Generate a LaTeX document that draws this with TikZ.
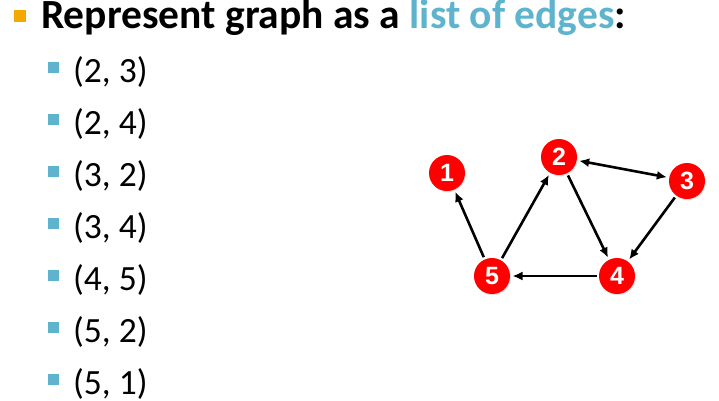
\documentclass[tikz,border=0pt]{standalone}
\usepackage{fontspec}
\setmainfont{Carlito}
\newfontfamily\numfont{Liberation Sans}
\usetikzlibrary{arrows.meta,shadows}
\definecolor{bulorange}{HTML}{F2A900}
\definecolor{bulteal}{HTML}{5FB4CD}
\definecolor{vred}{HTML}{FF0000}
\tikzset{
  vtx/.style={circle,fill=vred,minimum size=36pt,inner sep=0pt,outer sep=2.5pt,
    text=white,font=\numfont\bfseries\fontsize{25}{25}\selectfont,
    drop shadow={opacity=0.25,shadow xshift=0.8pt,shadow yshift=-1.2pt}},
  edge/.style={line width=2.6pt,-{Latex[length=10pt,width=9pt]}},
  dedge/.style={line width=2.6pt,{Latex[length=10pt,width=9pt]}-{Latex[length=10pt,width=9pt]}},
  titletext/.style={anchor=base west,inner sep=0pt,font=\bfseries\fontsize{41.5}{41.5}\selectfont},
  itemtext/.style={anchor=base west,inner sep=0pt,font=\fontsize{35.5}{35.5}\selectfont},
  tbul/.style={fill=bulorange,minimum size=12pt,inner sep=0pt},
  ibul/.style={fill=bulteal,minimum size=11pt,inner sep=0pt}
}
\begin{document}
\begin{tikzpicture}[x=1pt,y=-1pt]
\useasboundingbox (0,0) rectangle (719,400);
\node[tbul] (tb) at (20,15.5) {};
\node[titletext] (title) at (41,28) {Represent graph as a \textcolor{bulteal}{list of edges}:};
\foreach \t [count=\i] in {(2, 3),(2, 4),(3, 2),(3, 4),(4, 5),(5, 2),(5, 1)} {
  \pgfmathsetmacro{\yb}{82+52*(\i-1)}
  \node[ibul] (b\i) at (53.5,\yb-14.5) {};
  \node[itemtext] (e\i) at (73,\yb) {\t};
}
\node[vtx] (n1) at (447,173) {1};
\node[vtx] (n2) at (559,157) {2};
\node[vtx] (n3) at (687,181) {3};
\node[vtx] (n4) at (617,276) {4};
\node[vtx] (n5) at (492,276) {5};
\draw[dedge] (n2) -- (n3);
\draw[edge] (n2) -- (n4);
\draw[edge] (n3) -- (n4);
\draw[edge] (n4) -- (n5);
\draw[edge] (n5) -- (n2);
\draw[edge] (n5) -- (n1);
\end{tikzpicture}
\end{document}
